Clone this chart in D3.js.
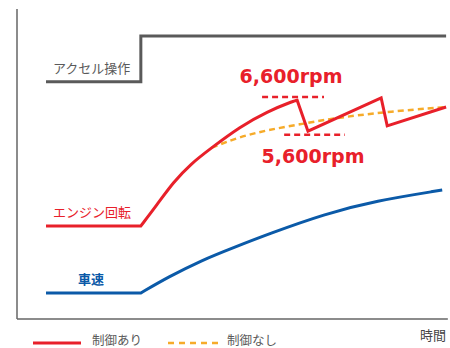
<!DOCTYPE html>
<html>
<head>
<meta charset="utf-8">
<script src="https://cdn.jsdelivr.net/npm/d3@7"></script>
<style>
  body { margin: 0; background: #fff; }
  text { font-family: "Noto Sans CJK JP", sans-serif; }
</style>
</head>
<body>
<div id="chart"></div>
<script>
const svgWidth = 450;
const svgHeight = 348;

// time axis 0-100, value axis 0-100
const accelData = [[6.7, 76.5], [28.6, 76.5], [28.6, 91.3], [99.1, 91.3]];
const engineIdle = [[6.7, 30], [28.6, 30]];
const engineRise = [[28.6, 30], [32.3, 36.8], [36.1, 44.1], [40, 49.9], [45, 55.3], [51.5, 62], [57.7, 66.9], [64.2, 70.5], [64.7, 70.6]];
const engineSaw = [[64.7, 70.6], [67.2, 60.6], [84.1, 71.3], [85.5, 62.3], [99.1, 68.4]];
const engineNoCtrl = [[45, 55.3], [51.5, 58.8], [58, 61], [65.4, 62.8], [72.3, 64.6], [84.9, 66.8], [99.1, 68.4]];
const speedIdle = [[6.7, 8.4], [28.6, 8.4]];
const speedRise = [[28.6, 8.4], [34.9, 13.5], [42.7, 19], [50.3, 23.2], [58, 27.4], [71.1, 33.9], [82.7, 38.1], [98.2, 41.6]];
const rpmMarks = [
  { label: "6,600rpm", value: 71.6, from: 56.6, to: 70.9 },
  { label: "5,600rpm", value: 59.4, from: 61.7, to: 75.7 }
];

const red = "#e8202a";
const orange = "#f6ab2a";
const blue = "#0b5aa8";
const gray = "#5a5a5a";

const svg = d3.select("#chart")
  .append("svg")
  .attr("width", svgWidth)
  .attr("height", svgHeight);

const x = d3.scaleLinear().domain([0, 100]).range([17, 450]);
const y = d3.scaleLinear().domain([0, 100]).range([319, 9]);

// axes (plain lines, no ticks)
svg.append("line")
  .attr("x1", x(0)).attr("x2", x(0))
  .attr("y1", y(100)).attr("y2", y(0))
  .attr("stroke", "#666").attr("stroke-width", 1.5);
svg.append("line")
  .attr("x1", x(0)).attr("x2", x(99.5))
  .attr("y1", y(0)).attr("y2", y(0))
  .attr("stroke", "#666").attr("stroke-width", 1.5);

const straight = d3.line().x(d => x(d[0])).y(d => y(d[1]));
const smooth = d3.line().x(d => x(d[0])).y(d => y(d[1])).curve(d3.curveBasis);

// rpm reference lines
svg.selectAll(".rpm-line")
  .data(rpmMarks)
  .enter()
  .append("line")
  .attr("x1", d => x(d.from)).attr("x2", d => x(d.to))
  .attr("y1", d => y(d.value)).attr("y2", d => y(d.value))
  .attr("stroke", red).attr("stroke-width", 2.5)
  .attr("stroke-dasharray", "6,4");

svg.append("path")
  .attr("d", straight(accelData))
  .attr("fill", "none").attr("stroke", gray).attr("stroke-width", 3);

svg.append("path")
  .attr("d", smooth(engineNoCtrl))
  .attr("fill", "none").attr("stroke", orange).attr("stroke-width", 2.5)
  .attr("stroke-dasharray", "6,4");

// engine with control: idle, smooth rise, then saw-tooth
svg.append("path")
  .attr("d", straight(engineIdle) + smooth(engineRise).replace(/^M/, "L") + straight(engineSaw).replace(/^M/, "L"))
  .attr("fill", "none").attr("stroke", red).attr("stroke-width", 3)
  .attr("stroke-linejoin", "miter");

svg.append("path")
  .attr("d", straight(speedIdle) + smooth(speedRise).replace(/^M/, "L"))
  .attr("fill", "none").attr("stroke", blue).attr("stroke-width", 3);

// series labels
svg.append("text").attr("x", 53).attr("y", 73)
  .attr("font-size", 13).attr("fill", gray).text("アクセル操作");
svg.append("text").attr("x", 53).attr("y", 217)
  .attr("font-size", 13).attr("fill", red).text("エンジン回転");
svg.append("text").attr("x", 91).attr("y", 284)
  .attr("text-anchor", "middle").attr("font-weight", "bold")
  .attr("font-size", 13).attr("fill", blue).text("車速");

// rpm labels
svg.append("text").attr("x", 291).attr("y", 83)
  .attr("text-anchor", "middle")
  .style("font-family", "'DejaVu Sans', sans-serif")
  .attr("font-weight", "bold").attr("font-size", 19)
  .attr("fill", red).text(rpmMarks[0].label);
svg.append("text").attr("x", 313).attr("y", 163)
  .attr("text-anchor", "middle")
  .style("font-family", "'DejaVu Sans', sans-serif")
  .attr("font-weight", "bold").attr("font-size", 19)
  .attr("fill", red).text(rpmMarks[1].label);

// axis title
svg.append("text").attr("x", 446).attr("y", 340)
  .attr("text-anchor", "end")
  .attr("font-size", 13).attr("fill", "#444").text("時間");

// legend
const legend = svg.append("g");
legend.append("line")
  .attr("x1", 33).attr("x2", 81).attr("y1", 343).attr("y2", 343)
  .attr("stroke", red).attr("stroke-width", 3);
legend.append("text").attr("x", 92).attr("y", 344.5)
  .attr("font-size", 12.5).attr("fill", gray).text("制御あり");
legend.append("line")
  .attr("x1", 168).attr("x2", 220).attr("y1", 343).attr("y2", 343)
  .attr("stroke", orange).attr("stroke-width", 2.5)
  .attr("stroke-dasharray", "6,5");
legend.append("text").attr("x", 227).attr("y", 344.5)
  .attr("font-size", 12.5).attr("fill", gray).text("制御なし");
</script>
</body>
</html>
